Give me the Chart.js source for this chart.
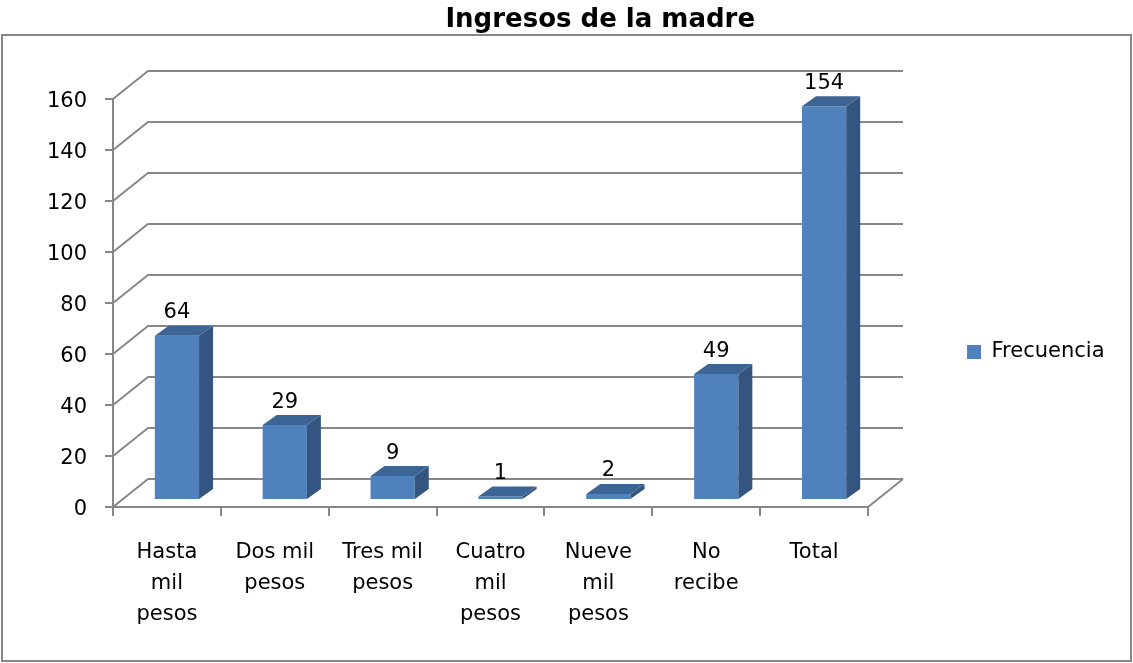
<!DOCTYPE html>
<html><head><meta charset="utf-8">
<script src="https://cdn.jsdelivr.net/npm/chart.js@4.4.1/dist/chart.umd.min.js"></script>
<style>html,body{margin:0;padding:0;background:#fff;}canvas{display:block;}</style>
</head><body>
<canvas id="c" width="1133" height="663" style="width:1133px;height:663px"></canvas>
<script>
const titleText = 'Ingresos de la madre';
const categories = [['Hasta','mil','pesos'],['Dos mil','pesos'],['Tres mil','pesos'],['Cuatro','mil','pesos'],['Nueve','mil','pesos'],['No','recibe'],['Total']];
const seriesName = 'Frecuencia';
const frecuencia = [64, 29, 9, 1, 2, 49, 154];
const yTicks = [0, 20, 40, 60, 80, 100, 120, 140, 160];

const FONT = 'DejaVu Sans';
const GRID = '#878787';
const FRONT = {dx: -10, dy: 8};
const BACK = {dx: 25, dy: -20};
const DEPTH = {dx: 14, dy: -10};

const frame3d = {
  id: 'frame3d',
  beforeDraw(chart) {
    const ctx = chart.ctx;
    ctx.save();
    ctx.strokeStyle = GRID; ctx.lineWidth = 2;
    ctx.strokeRect(2, 35, 1129, 626);
    ctx.restore();
  },
  beforeDatasetsDraw(chart) {
    const {ctx, chartArea: {left, right}, scales: {x, y}} = chart;
    ctx.save();
    ctx.strokeStyle = GRID; ctx.lineWidth = 2; ctx.lineJoin = 'miter';
    y.ticks.forEach(t => {
      const py = y.getPixelForValue(t.value);
      ctx.beginPath();
      ctx.moveTo(left + FRONT.dx, py + FRONT.dy);
      ctx.lineTo(left + BACK.dx, py + BACK.dy);
      ctx.lineTo(right + BACK.dx, py + BACK.dy);
      ctx.stroke();
      ctx.beginPath();
      ctx.moveTo(left + FRONT.dx - 8, py + FRONT.dy);
      ctx.lineTo(left + FRONT.dx, py + FRONT.dy);
      ctx.stroke();
    });
    const y0 = y.getPixelForValue(yTicks[0]);
    const yTop = y.getPixelForValue(yTicks[yTicks.length - 1]);
    ctx.beginPath();
    ctx.moveTo(left + FRONT.dx, y0 + FRONT.dy);
    ctx.lineTo(left + FRONT.dx, yTop + FRONT.dy);
    ctx.stroke();
    ctx.beginPath();
    ctx.moveTo(left + FRONT.dx, y0 + FRONT.dy);
    ctx.lineTo(right + FRONT.dx, y0 + FRONT.dy);
    ctx.lineTo(right + BACK.dx, y0 + BACK.dy);
    ctx.stroke();
    const n = chart.data.labels.length;
    for (let i = 0; i <= n; i++) {
      const xb = Math.round(left + i * (right - left) / n + FRONT.dx);
      ctx.beginPath();
      ctx.moveTo(xb, y0 + FRONT.dy);
      ctx.lineTo(xb, y0 + FRONT.dy + 9);
      ctx.stroke();
    }
    ctx.restore();
  },
  afterDatasetsDraw(chart) {
    const ctx = chart.ctx;
    const meta = chart.getDatasetMeta(0);
    const data = chart.data.datasets[0].data;
    ctx.save();
    meta.data.forEach((bar, i) => {
      const {x, y, base, width} = bar.getProps(['x', 'y', 'base', 'width'], true);
      const l = x - width / 2, r = x + width / 2;
      ctx.fillStyle = '#34557f';
      ctx.beginPath();
      ctx.moveTo(r, y); ctx.lineTo(r + DEPTH.dx, y + DEPTH.dy);
      ctx.lineTo(r + DEPTH.dx, base + DEPTH.dy); ctx.lineTo(r, base);
      ctx.closePath(); ctx.fill();
      ctx.fillStyle = '#3c6595';
      ctx.beginPath();
      ctx.moveTo(l, y); ctx.lineTo(r, y);
      ctx.lineTo(r + DEPTH.dx, y + DEPTH.dy); ctx.lineTo(l + DEPTH.dx, y + DEPTH.dy);
      ctx.closePath(); ctx.fill();
      ctx.fillStyle = '#000';
      ctx.font = '21px "' + FONT + '"';
      ctx.textAlign = 'center'; ctx.textBaseline = 'middle';
      ctx.fillText(String(data[i]), x, y - 23);
    });
    ctx.restore();
  }
};

Chart.defaults.font.family = FONT;
Chart.defaults.color = '#000';

new Chart(document.getElementById('c'), {
  type: 'bar',
  data: {
    labels: categories,
    datasets: [{
      label: seriesName,
      data: frecuencia,
      backgroundColor: '#4F81BD',
      borderWidth: 0,
      categoryPercentage: 1,
      barPercentage: 0.41
    }]
  },
  options: {
    responsive: false,
    devicePixelRatio: 1,
    animation: false,
    layout: {padding: {left: 86, right: 18.5, top: 0, bottom: 0}},
    plugins: {
      tooltip: {enabled: false},
      title: {
        display: true, text: titleText, color: '#000',
        font: {family: FONT, size: 26, weight: 'bold'},
        padding: {top: 5, bottom: 54.8}
      },
      legend: {
        position: 'right',
        title: {display: true, text: '', font: {size: 10}, padding: {top: 29, bottom: 0}},
        labels: {
          boxWidth: 14, boxHeight: 14, padding: 89, color: '#000',
          font: {family: FONT, size: 21}
        }
      }
    },
    scales: {
      x: {
        grid: {display: false, drawTicks: false},
        border: {display: false},
        ticks: {autoSkip: false, maxRotation: 0, minRotation: 0, labelOffset: -10, padding: 38,
                font: {family: FONT, size: 21, lineHeight: 1.476}},
        afterFit(s) { s.height = 164; }
      },
      y: {
        min: yTicks[0], max: yTicks[yTicks.length - 1],
        grid: {display: false, drawTicks: false},
        border: {display: false},
        ticks: {stepSize: 20, labelOffset: 11, mirror: true, crossAlign: 'far', padding: -76,
                font: {family: FONT, size: 21}},
        afterFit(s) { s.width = 37; }
      }
    }
  },
  plugins: [frame3d]
});
</script>
</body></html>
